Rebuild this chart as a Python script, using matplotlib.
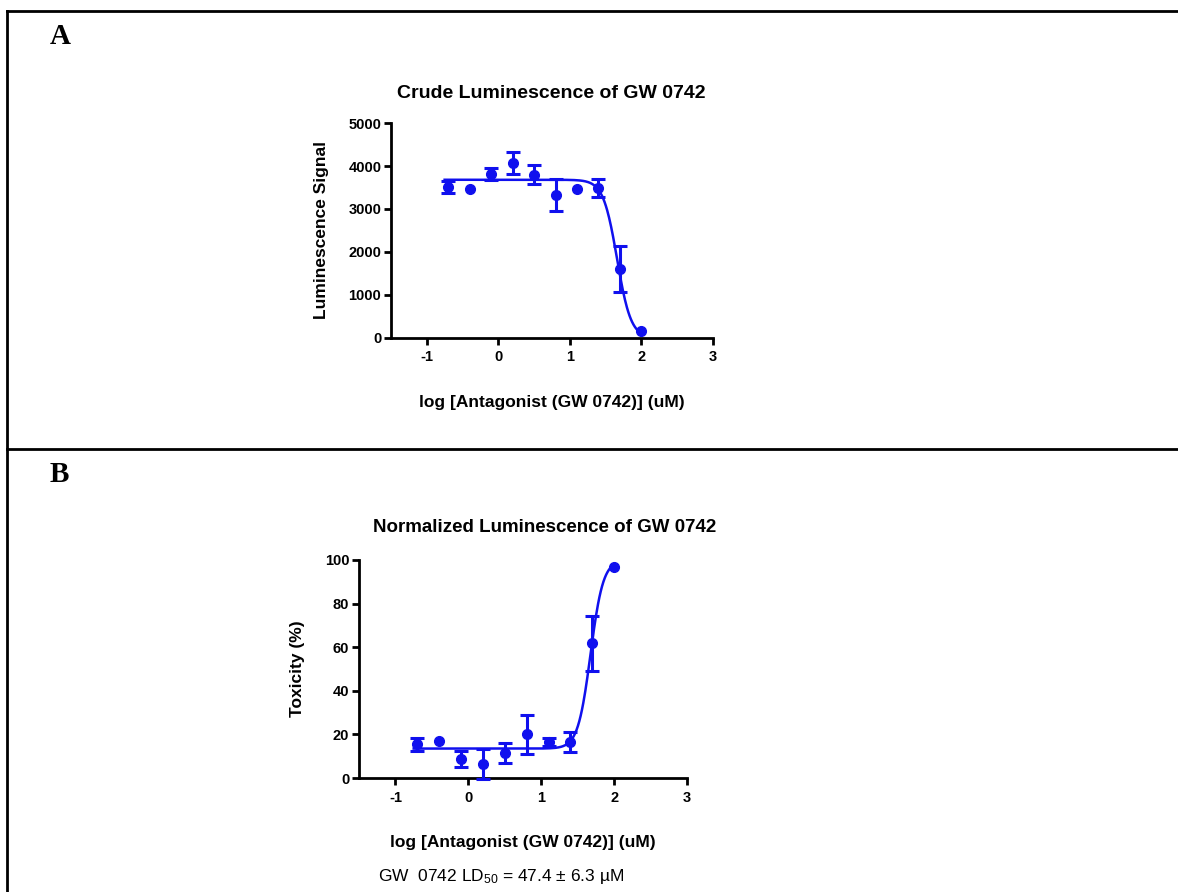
import numpy as np
import matplotlib
matplotlib.use('Agg')
import matplotlib.pyplot as plt
from matplotlib.lines import Line2D

plt.rcParams['font.family'] = ['Liberation Sans', 'DejaVu Sans']
plt.rcParams['axes.unicode_minus'] = False
plt.rcParams['mathtext.default'] = 'regular'

# log concentration of GW 0742 (uM)
log_conc = [-0.7, -0.4, -0.1, 0.2, 0.5, 0.8, 1.1, 1.4, 1.7, 2.0]

# panel A - crude luminescence
lum_mean = [3510, 3465, 3820, 4070, 3800, 3335, 3465, 3490, 1605, 170]
lum_err = [130, 0, 135, 245, 215, 370, 0, 200, 540, 0]

# panel B - normalized toxicity (%)
tox_mean = [15.5, 17.0, 8.6, 6.6, 11.5, 20.1, 16.5, 16.5, 61.7, 96.6]
tox_err = [3.0, 0, 3.6, 6.9, 4.5, 9.0, 2.0, 4.7, 12.7, 0]

# fitted sigmoid parameters: bottom, top, logIC50, hill slope
fit_a = (0, 3680, 1.66, -4.5)
fit_b = (13.5, 100, 1.676, 5.0)

blue = '#1010ee'


def sigmoid(x, bottom, top, logc, hill):
    return bottom + (top - bottom) / (1 + 10 ** ((logc - x) * hill))


def draw_panel(ax, mean, err, fit, ylim, yticks, ylabel):
    x = np.array(log_conc)
    y = np.array(mean)
    e = np.array(err)
    has_err = e > 0
    # points with error bars
    ax.errorbar(x[has_err], y[has_err], yerr=e[has_err], fmt='o', color=blue,
                ms=7, capsize=5, capthick=2.2, elinewidth=2.2,
                clip_on=False, zorder=3)
    # points without error bars
    ax.plot(x[~has_err], y[~has_err], 'o', color=blue, ms=7,
            clip_on=False, zorder=3)
    xs = np.linspace(-0.75, 2.0, 300)
    ax.plot(xs, sigmoid(xs, *fit), color=blue, lw=1.8)
    ax.set_xlim(-1.5, 3)
    ax.set_ylim(*ylim)
    ax.set_xticks([-1, 0, 1, 2, 3])
    ax.set_yticks(yticks)
    ax.spines['top'].set_visible(False)
    ax.spines['right'].set_visible(False)
    ax.spines['left'].set_linewidth(2)
    ax.spines['bottom'].set_linewidth(2)
    ax.tick_params(width=2, length=5, labelsize=10.5, pad=4)
    ax.tick_params(axis='y', pad=2)
    for lab in ax.get_xticklabels() + ax.get_yticklabels():
        lab.set_fontweight('bold')
    ax.set_xlabel('log [Antagonist (GW 0742)] (uM)', fontsize=12.5,
                  fontweight='bold', labelpad=22)
    ax.set_ylabel(ylabel, fontsize=12.5, fontweight='bold', labelpad=14)


fig = plt.figure(figsize=(11.78, 8.92), dpi=100)

ax_a = fig.add_axes([0.3319, 0.6211, 0.2733, 0.2410])
draw_panel(ax_a, lum_mean, lum_err, fit_a, (0, 5000),
           [0, 1000, 2000, 3000, 4000, 5000], 'Luminescence Signal')
fig.text(551 / 1178, 1 - 93 / 892, 'Crude Luminescence of GW 0742',
         ha='center', va='center', fontsize=14, fontweight='bold')

ax_b = fig.add_axes([0.3048, 0.1278, 0.2784, 0.2444])
draw_panel(ax_b, tox_mean, tox_err, fit_b, (0, 100),
           [0, 20, 40, 60, 80, 100], 'Toxicity (%)')
fig.text(545 / 1178, 1 - 527 / 892, 'Normalized Luminescence of GW 0742',
         ha='center', va='center', fontsize=13.5, fontweight='bold')

fig.text(378 / 1178, 1 - 876 / 892,
         'GW  0742 LD$_{50}$ = 47.4 \u00b1 6.3 \u00b5M',
         ha='left', va='center', fontsize=12.5)

# panel letters
fig.text(50 / 1178, 1 - 37 / 892, 'A', fontsize=21, fontweight='bold',
         family='Liberation Serif', ha='left', va='center')
fig.text(50 / 1178, 1 - 474 / 892, 'B', fontsize=21, fontweight='bold',
         family='Liberation Serif', ha='left', va='center')


# table frame
def fx(px):
    return px / 1178


def fy(py):
    return 1 - py / 892


frame = [([fx(7), fx(1178)], [fy(10.5), fy(10.5)]),
         ([fx(7), fx(1178)], [fy(449), fy(449)]),
         ([fx(7), fx(7)], [fy(10.5), fy(892)])]
for xs, ys in frame:
    fig.add_artist(Line2D(xs, ys, color='black', lw=2))

fig.savefig('out.png', dpi=100)
